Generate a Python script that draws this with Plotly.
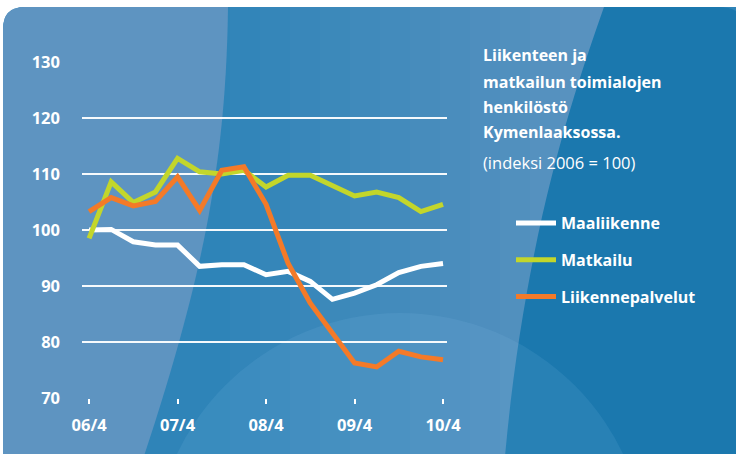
import plotly.graph_objects as go

# ---------------- data ----------------
quarters = ["06/4", "07/1", "07/2", "07/3", "07/4", "08/1", "08/2", "08/3", "08/4",
            "09/1", "09/2", "09/3", "09/4", "10/1", "10/2", "10/3", "10/4"]
tick_labels = ["06/4", "07/4", "08/4", "09/4", "10/4"]
y_ticks = [70, 80, 90, 100, 110, 120, 130]

maaliikenne = [100.0, 100.1, 97.9, 97.3, 97.3, 93.5, 93.8, 93.8, 92.0,
               92.6, 90.8, 87.6, 88.7, 90.2, 92.4, 93.5, 94.0]
matkailu = [98.5, 108.6, 104.9, 106.8, 112.8, 110.4, 110.0, 110.7, 107.7,
            109.8, 109.8, 107.9, 106.1, 106.8, 105.8, 103.3, 104.6]
liikennepalvelut = [103.3, 105.8, 104.3, 105.1, 109.5, 103.5, 110.7, 111.3, 104.6,
                    94.0, 86.9, 81.5, 76.2, 75.5, 78.3, 77.3, 76.8]

series_names = ["Maaliikenne", "Matkailu", "Liikennepalvelut"]
series_colors = ["#ffffff", "#c3d62b", "#f47a28"]

title_lines = ["Liikenteen ja", "matkailun toimialojen", "henkilöstö", "Kymenlaaksossa."]
subtitle = "(indeksi 2006 = 100)"

# ---------------- geometry helpers (pixel -> paper) ----------------
W, H = 736, 454
L, R, T, B = 82, 447, 62, 398
PW, PH = R - L, B - T


def px(x):
    return (x - L) / PW


def py(y):
    return (B - y) / PH


def path(*tokens):
    out = []
    for t in tokens:
        if isinstance(t, str):
            out.append(t)
        else:
            out.append(f"{px(t[0]):.5f},{py(t[1]):.5f}")
    return " ".join(out)


shapes = []
# base card
shapes.append(dict(type="path", xref="paper", yref="paper", layer="below",
                   path=path("M", (3, 29), "Q", (3, 7), (25, 7), "L", (740, 7), "L", (740, 480),
                             "L", (3, 480), "Z"),
                   fillcolor="#2f84b8", line=dict(width=0)))
# middle gradient strips
c0 = (0x2e, 0x84, 0xb8)
c1 = (0x5c, 0x93, 0xc0)
n = 14
x_start, x_end = 200, 620
for i in range(n):
    xa = x_start + (x_end - x_start) * i / n
    xb = x_start + (x_end - x_start) * (i + 1) / n + 1
    f = i / (n - 1)
    col = "#%02x%02x%02x" % tuple(int(round(c0[k] + (c1[k] - c0[k]) * f)) for k in range(3))
    shapes.append(dict(type="rect", xref="paper", yref="paper", layer="below",
                       x0=px(xa), x1=px(xb), y0=py(7), y1=py(480),
                       fillcolor=col, line=dict(width=0)))
# right dark region
shapes.append(dict(type="path", xref="paper", yref="paper", layer="below",
                   path=path("M", (604, 7), "C", (575, 90), (522, 240), (503, 480),
                             "L", (745, 480), "L", (745, 29), "Q", (745, 7), (718, 7), "Z"),
                   fillcolor="#1b78ae", line=dict(width=0)))
# soft circle at the bottom
shapes.append(dict(type="circle", xref="paper", yref="paper", layer="below",
                   x0=px(153), x1=px(647), y0=py(313), y1=py(807),
                   fillcolor="rgba(140,200,235,0.12)", line=dict(width=0)))
# left light region
shapes.append(dict(type="path", xref="paper", yref="paper", layer="below",
                   path=path("M", (3, 29), "Q", (3, 7), (25, 7), "L", (228, 7),
                             "C", (226, 170), (200, 290), (136, 480), "L", (3, 480), "Z"),
                   fillcolor="#5e94c1", line=dict(width=0)))

fig = go.Figure()
series = [maaliikenne, matkailu, liikennepalvelut]
for i, (name, vals, col) in enumerate(zip(series_names, series, series_colors)):
    fig.add_trace(go.Scatter(x=quarters, y=vals, name=name, mode="lines",
                             legendgroup=f"g{i}",
                             line=dict(color=col, width=5)))

annotations = []
title_y = [55, 82, 107, 132]
for txt, yy in zip(title_lines, title_y):
    annotations.append(dict(xref="paper", yref="paper", x=px(481), y=py(yy),
                            xanchor="left", yanchor="middle", showarrow=False,
                            text=txt, font=dict(family="Open Sans", size=16,
                                                color="white", weight=700)))
annotations.append(dict(xref="paper", yref="paper", x=px(481), y=py(162),
                        xanchor="left", yanchor="middle", showarrow=False,
                        text=subtitle, font=dict(family="Open Sans", size=16.5,
                                                 color="white")))

fig.update_layout(
    width=W, height=H,
    margin=dict(l=L, r=W - R, t=T, b=H - B, pad=0),
    paper_bgcolor="white",
    plot_bgcolor="rgba(0,0,0,0)",
    shapes=shapes,
    annotations=annotations,
    showlegend=True,
    legend=dict(x=px(511), y=py(206), xanchor="left", yanchor="top",
                bgcolor="rgba(0,0,0,0)", borderwidth=0,
                traceorder="grouped", tracegroupgap=13, itemwidth=40,
                font=dict(family="Open Sans", size=16, color="white", weight=700)),
    xaxis=dict(type="category", range=[-0.32, 16.18],
               tickmode="array", tickvals=tick_labels, ticktext=tick_labels,
               showgrid=False, zeroline=False, showline=False,
               ticks="outside", ticklen=5, tickwidth=1.5, tickcolor="white",
               ticklabelstandoff=7,
               tickfont=dict(family="Open Sans", size=16.5, color="white", weight=700)),
    yaxis=dict(range=[69.95, 130.05], tickvals=y_ticks,
               showgrid=True, gridcolor="rgba(255,255,255,0.95)", gridwidth=1.5,
               zeroline=False, showline=False, ticks="",
               ticklabelstandoff=21,
               tickfont=dict(family="Open Sans", size=16.5, color="white", weight=700)),
)

fig.write_html("out.html", post_script="document.body.style.margin='0';",
               config={"displayModeBar": False})
